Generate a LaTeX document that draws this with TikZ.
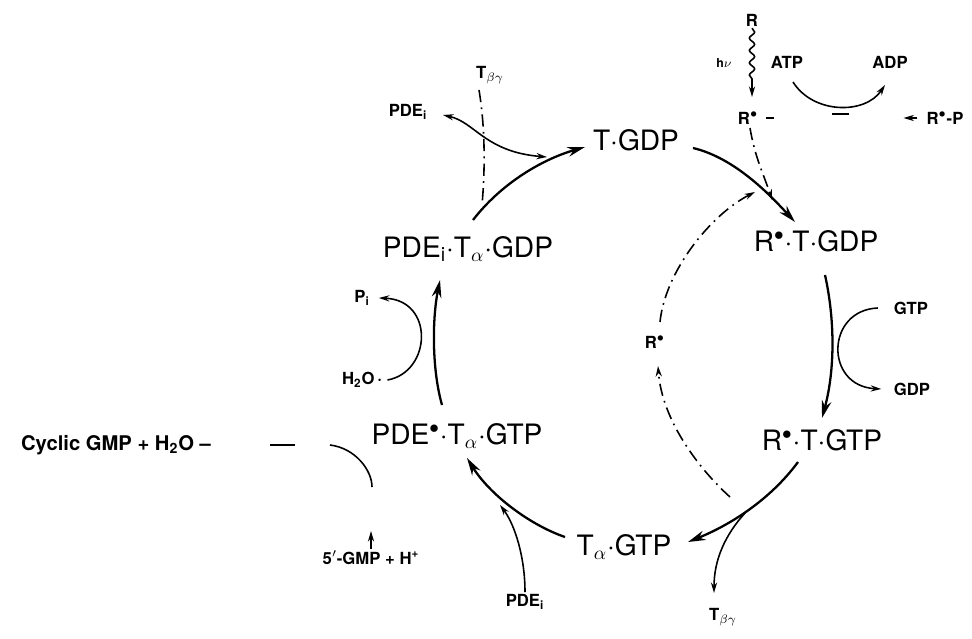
\documentclass[tikz,border=0pt]{standalone}
\usepackage{fontspec}
\setmainfont{TeX Gyre Heros}
\usetikzlibrary{arrows.meta}
\usetikzlibrary{decorations.pathmorphing}

\begin{document}
\begin{tikzpicture}[x=0.02cm,y=-0.02cm,
    state/.style={font=\fontsize{16}{18}\selectfont, inner sep=1pt},
    lbl/.style={font=\fontsize{9.5}{11}\selectfont\bfseries, inner sep=1pt},
    midlbl/.style={font=\fontsize{11.5}{13}\selectfont\bfseries, inner sep=1pt},
    cyc/.style={line width=1.3pt, -{Stealth[length=10pt,width=5.5pt]}},
    side/.style={line width=0.9pt, -{Stealth[length=6pt,width=3.5pt]}},
    dashdotline/.style={line width=0.9pt, dash pattern=on 7pt off 3pt on 1pt off 3pt}]
    \useasboundingbox (0,0) rectangle (972,638);

    % the cycle
    \node[state] (tgdp) at (636,140) {T·GDP};
    \node[state] (rtgdp) at (816,241) {R$^\bullet$·T·GDP};
    \node[state] (rtgtp) at (822,440) {R$^\bullet$·T·GTP};
    \node[state] (tagtp) at (624,547) {T$_\alpha$·GTP};
    \node[state] (pdegtp) at (457,436) {PDE$^\bullet$·T$_\alpha$·GTP};
    \node[state] (pdegdp) at (468,249) {PDE\textsubscript{i}·T$_\alpha$·GDP};

    \draw[cyc] ([shift={(57,8)}]tgdp.center) .. controls +(42,10) and +(-25,-27) .. ([shift={(-21,-19)}]rtgdp.center);
    \draw[cyc] ([shift={(9,34)}]rtgdp.center) .. controls +(10,45) and +(13,-48) .. ([shift={(0,-22)}]rtgtp.center);
    \draw[cyc] ([shift={(-24,22)}]rtgtp.center) .. controls +(-28,38) and +(42,-17) .. ([shift={(64,-5)}]tagtp.center);
    \draw[cyc] ([shift={(-59,-10)}]tagtp.center) .. controls +(-35,-12) and +(23,37) .. ([shift={(10,22)}]pdegtp.center);
    \draw[cyc] ([shift={(-15,-31)}]pdegtp.center) .. controls +(-10,-35) and +(-8,40) .. ([shift={(-28,31)}]pdegdp.center);
    \draw[cyc] ([shift={(5,-29)}]pdegdp.center) .. controls +(27,-35) and +(-45,13) .. ([shift={(-51,7)}]tgdp.center);

    % light and R*
    \node[lbl] (rdark) at (752,20) {R};
    \node[font=\fontsize{7}{9}\selectfont\bfseries] (hv) at (724,63) {h$\nu$};
    \node[lbl] (rstar1) at (748,118) {R$^\bullet$};
    \coordinate (hvend) at (752,84);
    \draw[line width=0.9pt, decorate, decoration={snake,amplitude=1.5pt,segment length=7pt}] (rdark.south) -- (hvend);
    \draw[side] (hvend) -- ([shift={(4,-21)}]rstar1.center);
    \draw[line width=0.9pt] (766,118) -- (774,118);
    \coordinate (rdrop) at (772,200);
    \draw[side,dashdotline] ([shift={(2,10)}]rstar1.center) .. controls +(5,30) and +(-8,-25) .. (rdrop);

    \node[lbl] (atp) at (787,62) {ATP};
    \node[lbl] (adp) at (890,62) {ADP};
    \node[lbl] (rp) at (945,118) {R$^\bullet$-P};
    \draw[side] ([shift={(6,20)}]atp.center) .. controls +(20,32) and +(-20,30) .. ([shift={(-5,23)}]adp.center);
    \draw[line width=0.9pt] (832,114) -- (849,114);
    \draw[side] ([xshift=-4pt]rp.west) -- ++(-14,0);

    % R* back to the start
    \node[lbl] (rstar2) at (655,342) {R$^\bullet$};
    \coordinate (rback) at (730,497);
    \coordinate (rtop) at (755,192);
    \draw[side,dashdotline] (rback) .. controls +(-30,-27) and +(4,55) .. ([shift={(3,24)}]rstar2.center);
    \draw[side,dashdotline] ([shift={(5,-20)}]rstar2.center) .. controls +(5,-50) and +(-45,23) .. (rtop);

    % GTP in, GDP out
    \node[lbl] (gtp) at (911,308) {GTP};
    \node[lbl] (gdp) at (912,389) {GDP};
    \draw[side] ([xshift=-8pt]gtp.west) .. controls +(-52,2) and +(-57,-3) .. ([xshift=-6pt]gdp.west);

    % T_bg leaves
    \node[lbl] (tbg2) at (723,617) {T$_{\beta\gamma}$};
    \coordinate (split) at (745,513);
    \draw[side] (split) .. controls +(-20,22) and +(0,-33) .. ([shift={(-9,-24)}]tbg2.center);

    % PDE_i joins
    \node[lbl] (pdei2) at (525,602) {PDE\textsubscript{i}};
    \coordinate (pdein) at (500,505);
    \draw[side] (pdei2.north) .. controls +(0,-35) and +(15,20) .. (pdein);

    % hydrolysis
    \node[lbl] (pi) at (362,298) {P\textsubscript{i}};
    \node[lbl] (h2o) at (362,380) {H\textsubscript{2}O\,·};
    \draw[side] ([xshift=2pt]h2o.east) .. controls +(44,-8) and +(56,2) .. ([xshift=4pt]pi.east);

    % T_bg returns, PDE_i leaves
    \node[lbl] (pdei1) at (408,112) {PDE\textsubscript{i}};
    \node[lbl] (tbg1) at (490,75) {T$_{\beta\gamma}$};
    \coordinate (tbgfoot) at (482,205);
    \coordinate (tgdpjoin) at (547,157);
    \draw[dashdotline] ([shift={(-11,15)}]tbg1.center) .. controls (484,120) and (486,160) .. (tbgfoot);
    \draw[line width=0.9pt, {Stealth[length=6pt,width=3.5pt]}-{Stealth[length=6pt,width=3.5pt]}] ([shift={(35,3)}]pdei1.center) .. controls +(32,7) and +(-62,-5) .. (tgdpjoin);

    % cGMP hydrolysis
    \node[midlbl] (cgmp) at (116,445) {Cyclic GMP + H\textsubscript{2}O –};
    \node[lbl] (gmp5) at (371,558) {5$'$-GMP + H\textsuperscript{+}};
    \draw[line width=0.9pt] (270,445) -- (295,445);
    \draw[line width=0.9pt] (330,445) .. controls (355,448) and (372,470) .. (372,487);
    \draw[side] (gmp5.north) -- ++(0,-18);
\end{tikzpicture}
\end{document}
